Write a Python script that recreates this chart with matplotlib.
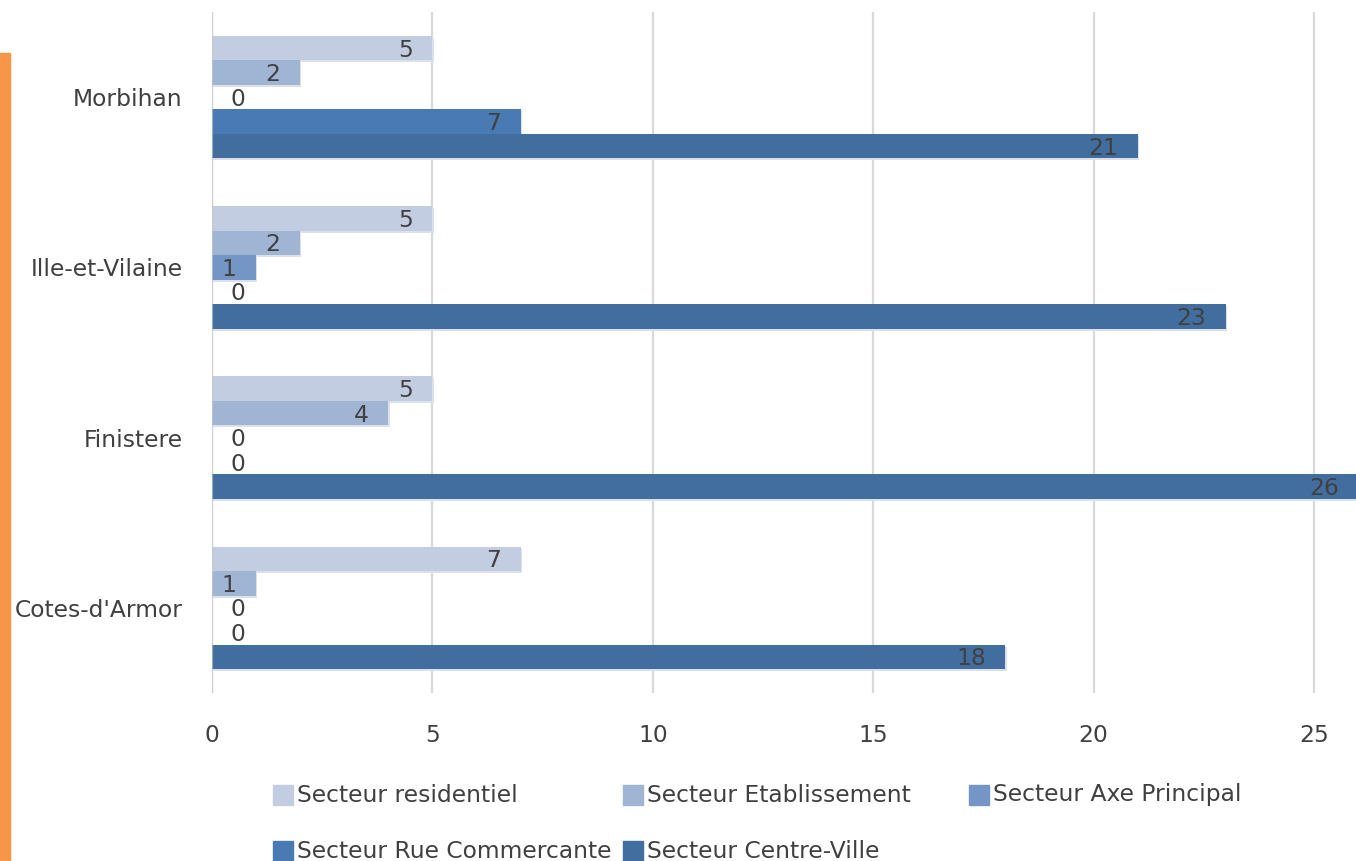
import numpy as np
import matplotlib
matplotlib.use('Agg')
import matplotlib.pyplot as plt
from matplotlib.patches import Rectangle

# Data (top to bottom)
departements = ['Morbihan', 'Ille-et-Vilaine', 'Finistere', "Cotes-d'Armor"]
secteurs = ['Secteur residentiel', 'Secteur Etablissement', 'Secteur Axe Principal',
            'Secteur Rue Commercante', 'Secteur Centre-Ville']
residentiel = [5, 5, 5, 7]
etablissement = [2, 2, 4, 1]
axe_principal = [0, 1, 0, 0]
rue_commercante = [7, 0, 0, 0]
centre_ville = [21, 23, 26, 18]
x_ticks = [0, 5, 10, 15, 20, 25]

series = [residentiel, etablissement, axe_principal, rue_commercante, centre_ville]
colors = ['#C3CDE1', '#A0B4D4', '#7496C7', '#4A7AB4', '#426E9F']
text_color = '#404040'
fs = 16.8

fig = plt.figure(figsize=(13.56, 8.61), dpi=100)
ax = fig.add_axes([212 / 1356, 1 - 693 / 861, 1 - 212 / 1356, (693 - 12) / 861])

n_cat = len(departements)
bar_h = 0.144
centers = np.arange(n_cat)[::-1]  # Morbihan on top

for k, (vals, col) in enumerate(zip(series, colors)):
    y = centers + (2 - k) * bar_h
    # soft shadow under each bar
    ax.barh(y - 0.012, vals, height=bar_h, color='#DCE0EA', zorder=1, left=0.03)
    ax.barh(y, vals, height=bar_h, color=col, zorder=2)
    for yi, v in zip(y, vals):
        if v == 0:
            ax.annotate(str(v), (0, yi), xytext=(13, -1.5), textcoords='offset points',
                        ha='left', va='center', fontsize=fs, color=text_color, zorder=4,
                        annotation_clip=False)
        else:
            ax.annotate(str(v), (v, yi), xytext=(-14, -1.5), textcoords='offset points',
                        ha='right', va='center', fontsize=fs, color=text_color, zorder=4,
                        annotation_clip=False)

ax.set_xlim(0, (1356 - 212) / ((1314 - 212) / 25))
ax.set_ylim(-0.5, n_cat - 0.5)
ax.set_xticks(x_ticks)
ax.set_yticks(centers)
ax.set_yticklabels(departements)
ax.tick_params(axis='both', length=0, labelsize=fs, labelcolor=text_color)
ax.tick_params(axis='y', pad=21)
ax.tick_params(axis='x', pad=22)
ax.grid(axis='x', color='#D9D9D9', linewidth=1.6, zorder=0)
ax.set_axisbelow(True)
for s in ax.spines.values():
    s.set_visible(False)
ax.axvline(0, color='#C8C8C8', linewidth=1.6, alpha=0.6, zorder=3)

# Orange strip on the left edge
fig.patches.append(Rectangle((0, 0), 10 / 1356, 1 - 53 / 861, transform=fig.transFigure,
                             color='#F79646', zorder=0))

# Legend laid out like the original (3 columns, 2 rows)
col_x = [273, 623, 969]
row_y = [795, 851]
for i, (name, col) in enumerate(zip(secteurs, colors)):
    cx = col_x[i % 3]
    cy = row_y[i // 3]
    fig.patches.append(Rectangle((cx / 1356, 1 - (cy + 10) / 861), 20 / 1356, 20 / 861,
                                 transform=fig.transFigure, color=col))
    fig.text((cx + 24) / 1356, 1 - cy / 861, name, ha='left', va='center',
             fontsize=fs, color=text_color)

fig.savefig('out.png', dpi=100)
